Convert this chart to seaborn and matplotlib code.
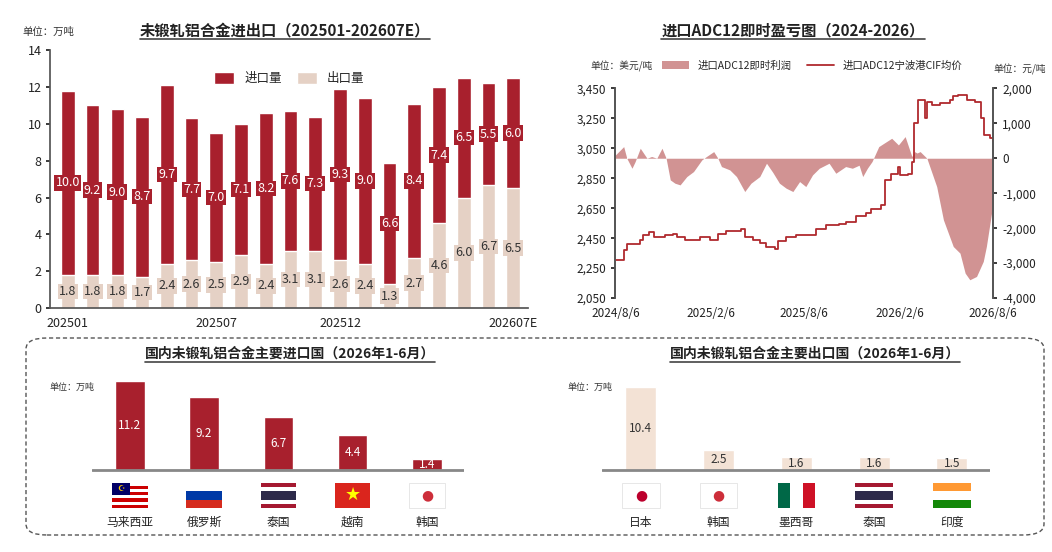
import numpy as np
import pandas as pd
import matplotlib.pyplot as plt
import seaborn as sns
from matplotlib.patches import Rectangle, FancyBboxPatch
from matplotlib.lines import Line2D

# ---- data ----
months = ["202501", "202502", "202503", "202504", "202505", "202506", "202507", "202508", "202509",
          "202510", "202511", "202512", "202601", "202602", "202603", "202604", "202605", "202606", "202607E"]
import_vol = [10.0, 9.2, 9.0, 8.7, 9.7, 7.7, 7.0, 7.1, 8.2, 7.6, 7.3, 9.3, 9.0, 6.6, 8.4, 7.4, 6.5, 5.5, 6.0]
export_vol = [1.8, 1.8, 1.8, 1.7, 2.4, 2.6, 2.5, 2.9, 2.4, 3.1, 3.1, 2.6, 2.4, 1.3, 2.7, 4.6, 6.0, 6.7, 6.5]

# CIF price (USD/t), days since 2024-08-06
price_days = [0, 16, 22, 48, 54, 64, 74, 86, 96, 112, 119, 134, 157, 163, 182, 198, 214, 243, 250, 266,
              279, 292, 308, 314, 330, 349, 381, 388, 407, 433, 446, 465, 484, 494, 513, 522, 532, 545, 547,
              550, 565, 573, 578, 585, 593, 598, 603, 611, 628, 647, 653, 663, 679, 695, 707, 713, 724, 730, 740]
price_usd = [2306, 2372, 2412, 2439, 2472, 2494, 2461, 2461, 2472, 2477, 2461, 2439, 2439, 2461, 2439, 2477,
             2501, 2510, 2461, 2439, 2417, 2388, 2377, 2434, 2461, 2472, 2472, 2510, 2539, 2546, 2561, 2599,
             2621, 2643, 2672, 2839, 2879, 2879, 2928, 2872, 2879, 2961, 3217, 3372, 3372, 3254, 3361, 3339,
             3350, 3372, 3399, 3406, 3372, 3361, 3250, 3139, 3117, 3099, 3099]

# instant import profit (CNY/t)
profit_days = [0, 16, 22, 32, 38, 48, 61, 70, 80, 90, 98, 106, 115, 125, 138, 151, 167, 176, 190, 198, 205,
               221, 234, 250, 262, 279, 292, 304, 317, 330, 343, 356, 368, 381, 394, 413, 426, 445, 458, 471,
               478, 487, 496, 509, 519, 534, 547, 560, 573, 578, 583, 589, 602, 621, 634, 653, 666, 676, 685,
               698, 711, 717, 730, 741]
profit_cny = [95, 333, 0, -286, -100, 286, 0, 50, 0, 286, 0, -619, -714, -762, -524, -381, -48, 50, 190, 0,
              -238, -333, -524, -952, -714, -524, -143, -400, -714, -857, -952, -667, -810, -476, -286, -143,
              -429, -238, -286, -200, -524, -286, -95, 333, 429, 571, 381, 619, 48, 190, 150, 190, 0, -810,
              -1762, -2524, -2714, -3286, -3476, -3381, -2952, -2524, -1286, -1000]

imp_countries = ["马来西亚", "俄罗斯", "泰国", "越南", "韩国"]
imp_values = [11.2, 9.2, 6.7, 4.4, 1.4]
exp_countries = ["日本", "韩国", "墨西哥", "泰国", "印度"]
exp_values = [10.4, 2.5, 1.6, 1.6, 1.5]

RED = "#A8202D"
BEIGE = "#E5D1C5"
LIGHT = "#F3E2D5"
AREA = "#D19393"
LINE = "#B02A2E"

sns.set_theme(style="white")
plt.rcParams['font.family'] = ['Noto Sans CJK SC', 'DejaVu Sans']

fig = plt.figure(figsize=(10.52, 5.52), dpi=100)

def px(x, y):
    return x / 1052, 1 - y / 552

def title(text, cx, cy, size=11):
    t = fig.text(*px(cx, cy), text, ha="center", va="center", fontsize=size, fontweight="bold", color="#222")
    fig.canvas.draw()
    bb = t.get_window_extent()
    yline = (bb.y0 - 1) / fig.bbox.height
    fig.add_artist(Line2D([bb.x0 / fig.bbox.width, bb.x1 / fig.bbox.width], [yline, yline],
                          color="#444", lw=1.2, transform=fig.transFigure))

# ---- top left: stacked bars ----
ax1 = fig.add_axes([0.048, 0.442, 0.454, 0.467])
df = pd.DataFrame({"month": months, "imp": import_vol, "exp": export_vol})
df["total"] = df["imp"] + df["exp"]
sns.barplot(data=df, x="month", y="total", color=RED, width=0.55, saturation=1, ax=ax1, label="进口量")
sns.barplot(data=df, x="month", y="exp", color=BEIGE, width=0.55, saturation=1, ax=ax1, label="出口量")
for i, r in df.iterrows():
    ax1.text(i, r["exp"] + r["imp"] / 2, f"{r['imp']:.1f}", ha="center", va="center", color="white",
             fontsize=9, bbox=dict(boxstyle="square,pad=0.1", fc=RED, ec="none"))
    ax1.text(i, r["exp"] / 2, f"{r['exp']:.1f}", ha="center", va="center", color="#333", fontsize=9,
             bbox=dict(boxstyle="square,pad=0.1", fc=BEIGE, ec="none"))
ax1.set_ylim(0, 14)
ax1.set_yticks(range(0, 15, 2))
ax1.set_xlim(-0.7, 18.6)
ax1.set_xticks([0, 6, 11, 18])
ax1.set_xticklabels([months[0], months[6], months[11], months[18]])
ax1.set_xlabel("")
ax1.set_ylabel("")
ax1.tick_params(axis="both", labelsize=9, colors="#222", length=3, left=True)
for s in ["top", "right"]:
    ax1.spines[s].set_visible(False)
for s in ["left", "bottom"]:
    ax1.spines[s].set_color("#555")
ax1.legend(loc="upper center", bbox_to_anchor=(0.5, 0.96), ncol=2, frameon=False, fontsize=9,
           handlelength=1.6, handleheight=1.1, columnspacing=1.2)
fig.text(*px(22, 32), "单位：万吨", fontsize=7.5, va="center", color="#333")
title("未锻轧铝合金进出口（202501-202607E）", 285, 30)

# ---- top right: profit + price ----
ax2 = fig.add_axes([0.585, 0.460, 0.359, 0.380])
ax3 = ax2.twinx()
base = pd.Timestamp("2024-08-06")
prof = pd.DataFrame({"date": base + pd.to_timedelta(profit_days, unit="D"), "v": profit_cny})
price = pd.DataFrame({"date": base + pd.to_timedelta(price_days, unit="D"), "v": price_usd})
ax3.fill_between(prof["date"], 0, prof["v"], color=AREA, lw=0)
sns.lineplot(data=price, x="date", y="v", color=LINE, lw=1.3, ax=ax2, drawstyle="steps-post")
ax2.set_zorder(ax3.get_zorder() + 1)
ax2.patch.set_visible(False)
ax2.set_ylim(2050, 3450)
ax2.set_yticks(range(2050, 3451, 200))
ax2.set_yticklabels([f"{v:,}" for v in range(2050, 3451, 200)])
ax3.set_ylim(-4000, 2000)
ax3.set_yticks(range(-4000, 2001, 1000))
ax3.set_yticklabels([f"{v:,}" for v in range(-4000, 2001, 1000)])
xt = pd.to_datetime(["2024-08-06", "2025-02-06", "2025-08-06", "2026-02-06", "2026-08-06"])
ax2.set_xlim(xt[0], xt[-1])
ax2.set_xticks(xt)
ax2.set_xticklabels([f"{d.year}/{d.month}/{d.day}" for d in xt])
ax2.set_xlabel("")
ax2.set_ylabel("")
for a in (ax2, ax3):
    a.tick_params(axis="both", labelsize=8.5, colors="#222", length=3)
    for s in ["top", "bottom"]:
        a.spines[s].set_visible(False)
    a.spines["left"].set_color("#555")
    a.spines["right"].set_color("#555")
ax2.tick_params(axis="y", left=True)
ax3.tick_params(axis="y", right=True)
ax2.tick_params(axis="x", bottom=False)
handles = [Rectangle((0, 0), 1, 1, fc=AREA, ec="none"), Line2D([0], [0], color=LINE, lw=1.3)]
fig.legend(handles, ["进口ADC12即时利润", "进口ADC12宁波港CIF均价"], loc="center",
           bbox_to_anchor=px(812, 66), ncol=2, frameon=False, fontsize=7.5, handlelength=2.6,
           handleheight=0.8, columnspacing=1.5)
fig.text(*px(590, 66), "单位：美元/吨", fontsize=7, va="center", color="#333")
fig.text(*px(993, 69), "单位：元/吨", fontsize=7, va="center", color="#333")
title("进口ADC12即时盈亏图（2024-2026）", 793, 30)

# ---- bottom frame ----
fig.add_artist(FancyBboxPatch(px(26, 535), 1018 / 1052, 197 / 552, boxstyle="round,pad=0,rounding_size=0.02",
                              transform=fig.transFigure, fc="none", ec="#555", ls=(0, (3, 2)), lw=1))


def flag(ax, name, x, y0=-4.8, y1=-1.6, w=0.48):
    h = y1 - y0
    l = x - w / 2
    def rect(xx, yy, ww, hh, c):
        ax.add_patch(Rectangle((xx, yy), ww, hh, fc=c, ec="none", clip_on=False))
    if name == "马来西亚":
        for k in range(8):
            rect(l, y0 + k * h / 8, w, h / 8, "#CC0001" if k % 2 == 0 else "white")
        rect(l, y0 + h / 2, w / 2, h / 2, "#010066")
        ax.text(l + w / 4, y0 + 3 * h / 4, "☪", color="#FFCC00", fontsize=6, ha="center", va="center",
                family="DejaVu Sans")
    elif name == "俄罗斯":
        for k, c in enumerate(["#D52B1E", "#0039A6", "white"]):
            rect(l, y0 + k * h / 3, w, h / 3, c)
    elif name == "泰国":
        for k, c in enumerate(["#A51931", "white", "#2D2A4A", "#2D2A4A", "white", "#A51931"]):
            rect(l, y0 + k * h / 6, w, h / 6, c)
    elif name == "越南":
        rect(l, y0, w, h, "#DA251D")
        ax.text(x, y0 + h / 2, "★", color="#FFFF00", fontsize=13, ha="center", va="center", family="DejaVu Sans")
    elif name in ("韩国", "日本"):
        rect(l, y0, w, h, "white")
        ax.add_patch(Rectangle((l, y0), w, h, fc="none", ec="#ddd", lw=0.5, clip_on=False))
        c = "#CD2E3A" if name == "韩国" else "#BC002D"
        ax.text(x, y0 + h / 2, "●", color=c, fontsize=10, ha="center", va="center", family="DejaVu Sans")
    elif name == "墨西哥":
        for k, c in enumerate(["#006847", "white", "#CE1126"]):
            rect(l + k * w / 3, y0, w / 3, h, c)
    elif name == "印度":
        for k, c in enumerate(["#138808", "white", "#FF9933"]):
            rect(l, y0 + k * h / 3, w, h / 3, c)


def bottom_panel(rect, xlim, names, vals, color, text_color):
    ax = fig.add_axes(rect)
    d = pd.DataFrame({"c": names, "v": vals})
    sns.barplot(data=d, x="c", y="v", color=color, width=0.4, saturation=1, ax=ax)
    ax.axhline(0, color="#888", lw=2)
    for i, v in enumerate(vals):
        ax.text(i, v / 2, f"{v:.1f}", ha="center", va="center", fontsize=8.5, color=text_color)
        flag(ax, names[i], i)
        ax.text(i, -6.6, names[i], ha="center", va="center", fontsize=8.5, color="#222")
    ax.set_ylim(-8.2, 11.95)
    ax.set_xlim(*xlim)
    ax.axis("off")
    return ax

bottom_panel([92 / 1052, 1 - 535 / 552, 372 / 1052, 160 / 552], (-0.51, 4.5),
             imp_countries, imp_values, RED, "white")
bottom_panel([602 / 1052, 1 - 535 / 552, 388 / 1052, 160 / 552], (-0.5, 4.49),
             exp_countries, exp_values, LIGHT, "#333")
fig.text(*px(50, 387), "单位：万吨", fontsize=6.5, va="center", color="#333")
fig.text(*px(567, 387), "单位：万吨", fontsize=6.5, va="center", color="#333")
title("国内未锻轧铝合金主要进口国（2026年1-6月）", 290, 354, size=10)
title("国内未锻轧铝合金主要出口国（2026年1-6月）", 815, 354, size=10)

fig.savefig("out.png", dpi=100)
